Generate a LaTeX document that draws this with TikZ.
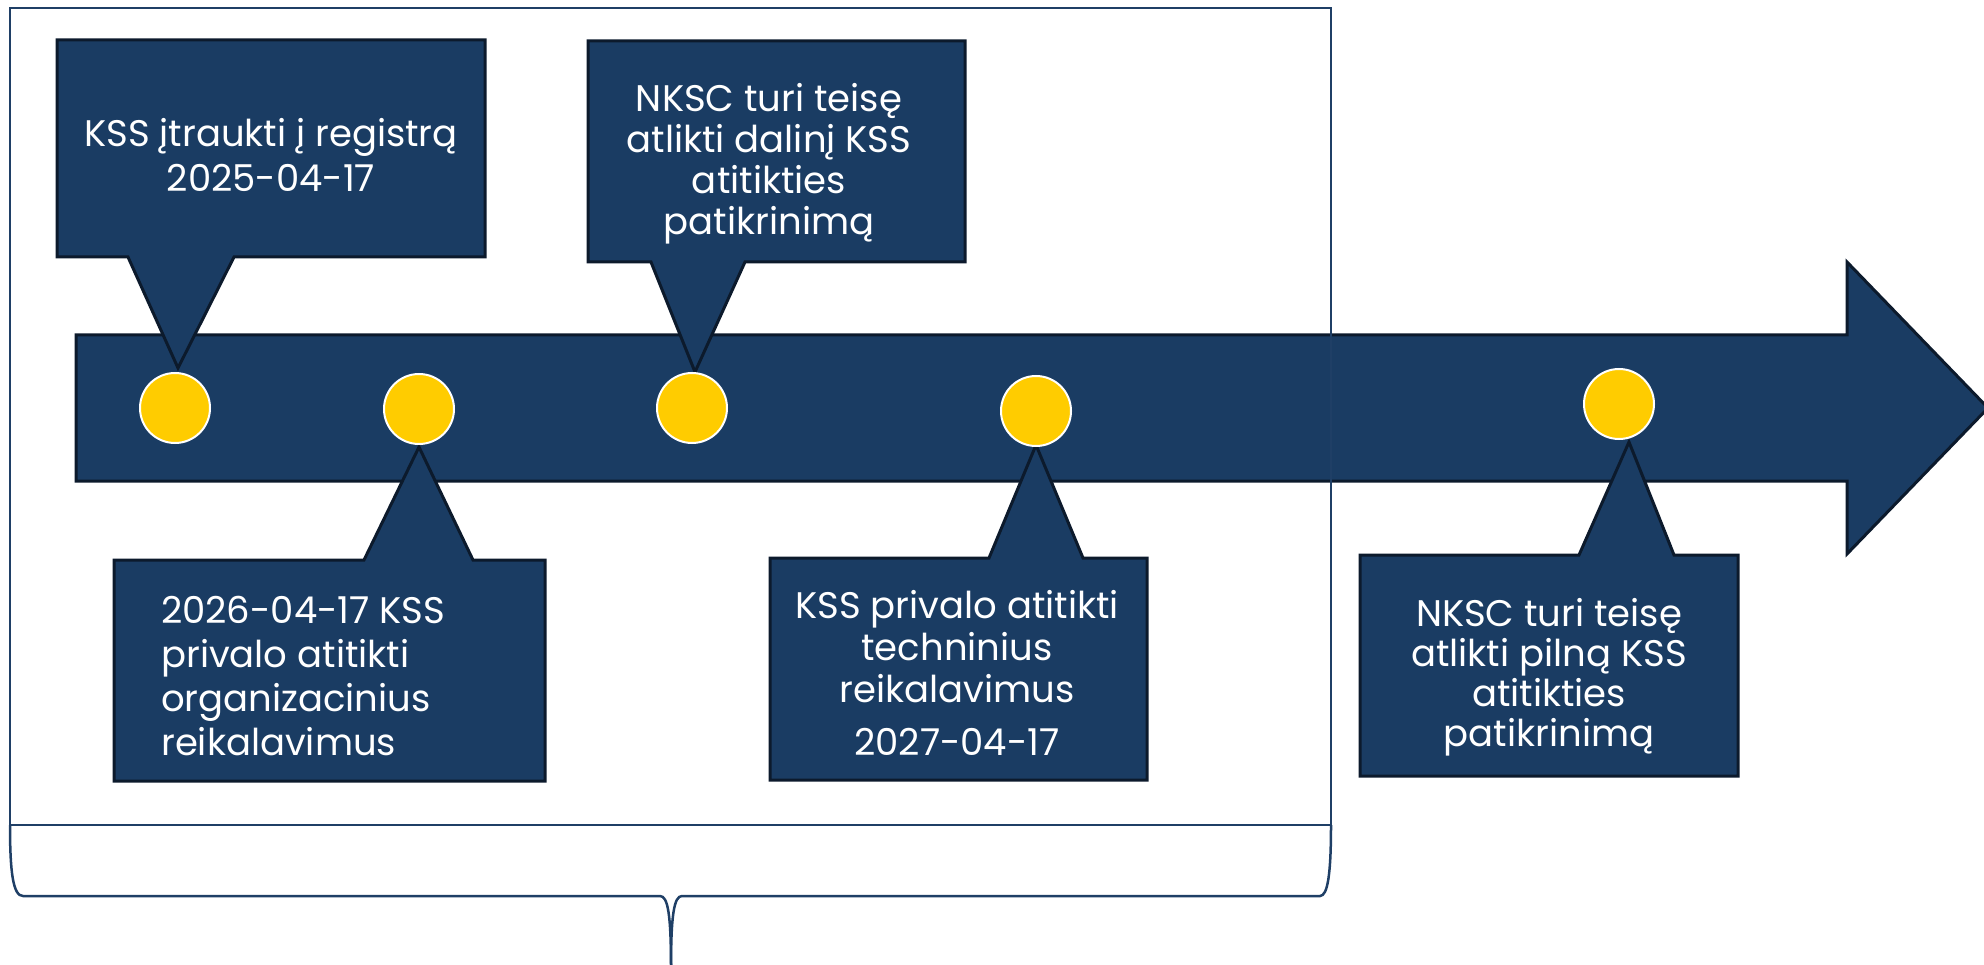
\documentclass[tikz,border=0pt]{standalone}
\usepackage{fontspec}
\setmainfont{Poppins}
\definecolor{navy}{HTML}{1A3C63}
\definecolor{edgec}{HTML}{0C1A2C}
\definecolor{framec}{HTML}{1F3F66}
\definecolor{gold}{HTML}{FFCC00}
\begin{document}
\begin{tikzpicture}[x=1pt,y=-1pt,
  arrowbody/.style={fill=navy,draw=edgec,line width=3pt,line join=miter},
  callout/.style={fill=navy,draw=edgec,line width=3pt,line join=miter},
  framestyle/.style={draw=framec,line width=2.5pt},
  dot/.style={circle,fill=gold,draw=white,line width=2pt,minimum size=70pt,inner sep=0pt},
  lbl/.style={text=white,font=\fontsize{37}{41}\selectfont,inner sep=0pt,align=center},
  lbll/.style={text=white,font=\fontsize{37}{44}\selectfont,inner sep=0pt,align=left}
]
\useasboundingbox (0,0) rectangle (1984,965);
% main arrow
\draw[arrowbody] (76,335) -- (1847,335) -- (1847,262) -- (1988,408) -- (1847,554) -- (1847,481) -- (76,481) -- cycle;
% frame and brace
\draw[framestyle] (10,825) -- (10,8) -- (1331,8) -- (1331,825) -- cycle;
\draw[framestyle] (10,825) .. controls (10,872) and (13,896) .. (23,896) -- (660,896)
  .. controls (668,896) and (671,915) .. (671,968);
\draw[framestyle] (1331,825) .. controls (1331,872) and (1328,896) .. (1320,896) -- (682,896)
  .. controls (674,896) and (671,915) .. (671,968);
% callouts
\draw[callout] (57,40) -- (485,40) -- (485,257) -- (234,257) -- (178,368) -- (128,257) -- (57,257) -- cycle;
\draw[callout] (588,41) -- (965,41) -- (965,262) -- (745,262) -- (695,372) -- (651,262) -- (588,262) -- cycle;
\draw[callout] (114,560) -- (364,560) -- (419,447) -- (473,560) -- (545,560) -- (545,781) -- (114,781) -- cycle;
\draw[callout] (770,558) -- (989,558) -- (1036,445) -- (1083,558) -- (1147,558) -- (1147,780) -- (770,780) -- cycle;
\draw[callout] (1360,555) -- (1579,555) -- (1629,442) -- (1674,555) -- (1738,555) -- (1738,776) -- (1360,776) -- cycle;
% dots
\node[dot] (d1) at (175,408) {};
\node[dot] (d2) at (419,409) {};
\node[dot] (d3) at (692,408) {};
\node[dot] (d4) at (1036,411) {};
\node[dot] (d5) at (1619,404) {};
% texts
\node[lbl,font=\fontsize{37}{45}\selectfont] (t1) at (271,155) {KSS įtraukti į registrą\\2025-04-17};
\node[lbl] (t3) at (769,164) {NKSC turi teisę\\atlikti dalinį KSS\\atitikties\\patikrinimą};
\node[lbll,anchor=west] (t2) at (161,676) {2026-04-17 KSS\\privalo atitikti\\organizacinius\\reikalavimus};
\node[lbl,font=\fontsize{37}{42}\selectfont] (t4) at (957,673) {KSS privalo atitikti\\techninius\\reikalavimus\\[11pt]2027-04-17};
\node[lbl,font=\fontsize{37}{40}\selectfont] (t5) at (1549,677) {NKSC turi teisę\\atlikti pilną KSS\\atitikties\\patikrinimą};
\end{tikzpicture}
\end{document}
